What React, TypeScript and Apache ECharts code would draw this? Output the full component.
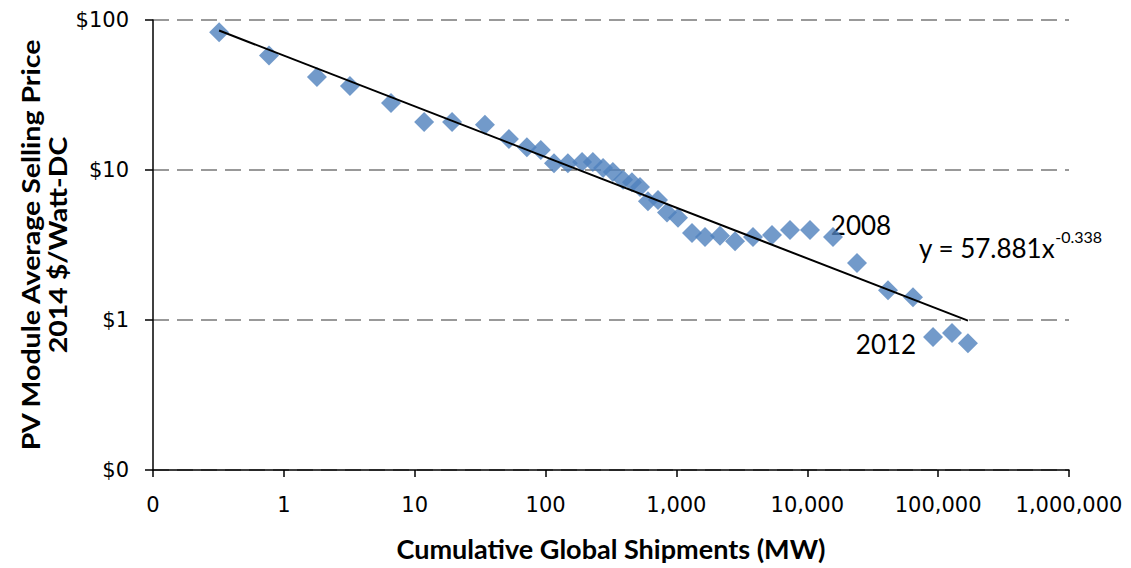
import React, { useEffect, useRef } from "react";
import * as echarts from "echarts";

// Cumulative global shipments (MW) and module price (2014 $/W-DC)
const shipmentsMW = [
  0.32, 0.77, 1.79, 3.2, 6.59, 11.8, 19.3, 34.4, 52.5, 72, 92,
  116, 148, 190, 230, 275, 327, 391, 457, 527, 606, 723, 847, 1028,
  1315, 1653, 2153, 2805, 3846, 5375, 7380, 10490, 15720, 23990,
  41380, 64260, 91400, 127600, 169000,
];
const pricesUSD = [
  83, 58, 41.7, 36.3, 28, 20.9, 20.9, 20, 16.1, 14.2, 13.6,
  11.1, 11.1, 11.3, 11.3, 10.3, 9.7, 8.6, 8.3, 7.7, 6.2, 6.3, 5.2, 4.8,
  3.8, 3.57, 3.65, 3.35, 3.58, 3.69, 3.98, 3.98, 3.58, 2.4,
  1.58, 1.42, 0.77, 0.82, 0.7,
];

// Power-law trendline shown in the chart: y = 57.881 x^-0.338
const trendCoef = 57.881;
const trendExp = -0.338;
const trendRange = [0.32, 169000];

const xLabelZero = "0";
const yLabelZero = "$0";
const yearLabels = ["2008", "2012"];
const xTitle = "Cumulative Global Shipments (MW)";
const yTitleLines = ["PV Module Average Selling Price", "2014 $/Watt-DC"];

const FONT = "Lato, 'Open Sans', sans-serif";
const TICK_FONT = "'DejaVu Sans', sans-serif";

export default function App() {
  const ref = useRef<HTMLDivElement>(null);
  useEffect(() => {
    const chart = echarts.init(ref.current!, null, { renderer: "svg" });
    const scatterData = shipmentsMW.map((x, i) => [x, pricesUSD[i]]);
    const trendData = trendRange.map((x) => [x, trendCoef * Math.pow(x, trendExp)]);
    chart.setOption({
      animation: false,
      backgroundColor: "#ffffff",
      grid: { left: 153, right: 62, top: 20, bottom: 98 },
      xAxis: {
        type: "log",
        logBase: 10,
        min: 0.1,
        max: 1000000,
        axisLine: { show: true, lineStyle: { color: "#000", width: 1.5 } },
        axisTick: { show: true, length: 7, lineStyle: { color: "#000", width: 1.5 } },
        axisLabel: {
          color: "#000",
          fontSize: 21,
          fontFamily: TICK_FONT,
          margin: 24,
          formatter: (v: number) =>
            v < 1 ? xLabelZero : Math.round(v).toLocaleString("en-US"),
        },
        splitLine: { show: false },
      },
      yAxis: {
        type: "log",
        logBase: 10,
        min: 0.1,
        max: 100,
        axisLine: { show: true, lineStyle: { color: "#000", width: 1.5 } },
        axisTick: { show: true, length: 8, lineStyle: { color: "#000", width: 1.5 } },
        axisLabel: {
          color: "#000",
          fontSize: 21,
          fontFamily: TICK_FONT,
          margin: 24,
          formatter: (v: number) => (v < 1 ? yLabelZero : "$" + Math.round(v)),
        },
        splitLine: {
          show: true,
          lineStyle: { color: "#999", width: 2, type: [16, 8] },
        },
      },
      series: [
        {
          type: "line",
          data: trendData,
          symbol: "none",
          lineStyle: { color: "#000", width: 2 },
          z: 3,
        },
        {
          type: "scatter",
          data: scatterData,
          symbol: "diamond",
          symbolSize: 20,
          itemStyle: { color: "#4F81BD" },
          z: 2,
        },
      ],
      graphic: [
        {
          type: "text",
          x: 861,
          y: 225,
          style: {
            text: yearLabels[0],
            fontSize: 26,
            fontFamily: FONT,
            fill: "#000",
            textAlign: "center",
            textVerticalAlign: "middle",
          },
        },
        {
          type: "text",
          x: 886,
          y: 344,
          style: {
            text: yearLabels[1],
            fontSize: 26,
            fontFamily: FONT,
            fill: "#000",
            textAlign: "center",
            textVerticalAlign: "middle",
          },
        },
        {
          type: "text",
          x: 919,
          y: 233,
          style: {
            text: "{a|y = " + trendCoef + "x}{b|" + trendExp + "}",
            fontFamily: FONT,
            fill: "#000",
            textAlign: "left",
            textVerticalAlign: "top",
            rich: {
              a: { fontSize: 26, fontFamily: FONT, fill: "#000", lineHeight: 30 },
              b: { fontSize: 16, fontFamily: FONT, fill: "#000", verticalAlign: "top", lineHeight: 30, padding: [-5, 0, 0, 0] },
            },
          },
        },
        {
          type: "text",
          x: 611,
          y: 549,
          scaleX: 1.04,
          style: {
            text: xTitle,
            fontSize: 26,
            fontWeight: "bold",
            fontFamily: FONT,
            fill: "#000",
            textAlign: "center",
            textVerticalAlign: "middle",
          },
        },
        {
          type: "text",
          x: 44,
          y: 245,
          rotation: Math.PI / 2,
          scaleX: 1.14,
          style: {
            text: yTitleLines.join("\n"),
            fontSize: 25,
            fontWeight: "bold",
            fontFamily: FONT,
            lineHeight: 27,
            fill: "#000",
            textAlign: "center",
            textVerticalAlign: "middle",
          },
        },
      ],
    });
    return () => chart.dispose();
  }, []);
  return (
    <div
      ref={ref}
      style={{ position: "fixed", left: 0, top: 0, width: 1131, height: 568, background: "#fff" }}
    />
  );
}
